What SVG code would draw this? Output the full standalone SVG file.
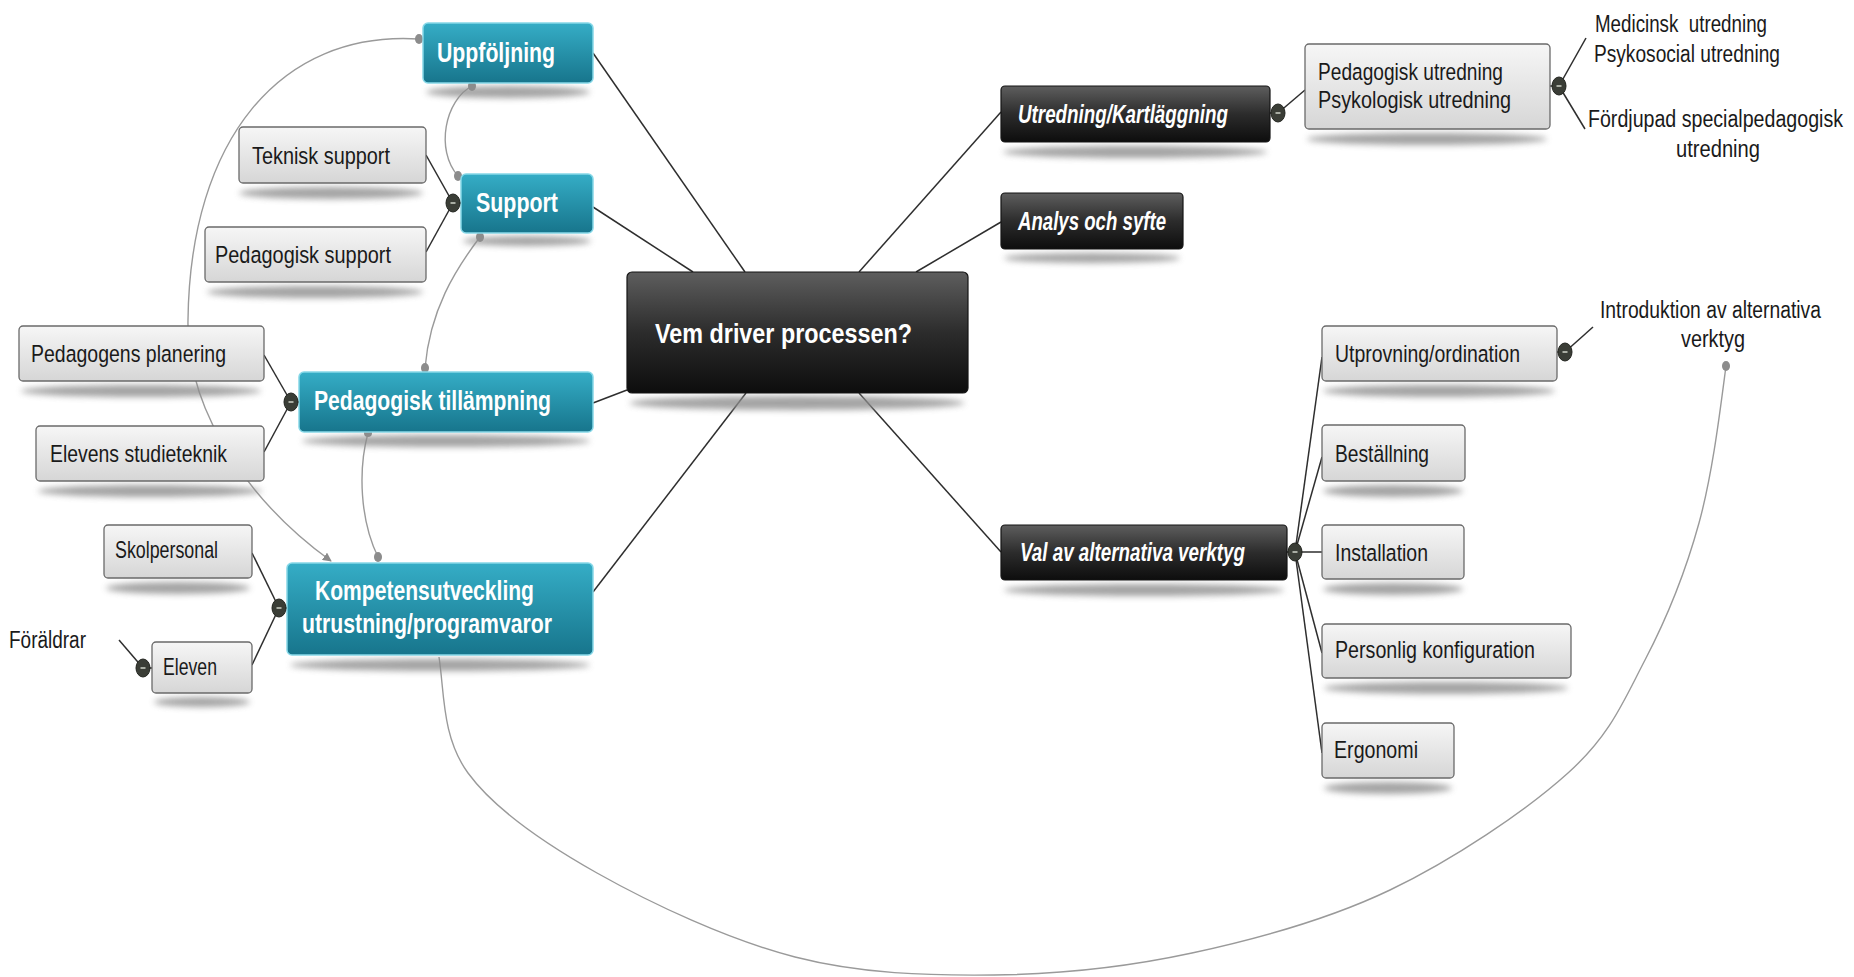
<svg xmlns="http://www.w3.org/2000/svg" width="1854" height="977" viewBox="0 0 1854 977">
<defs>
<linearGradient id="gTeal" x1="0" y1="0" x2="0" y2="1"><stop offset="0" stop-color="#35adc6"/><stop offset="1" stop-color="#17758c"/></linearGradient>
<linearGradient id="gDark" x1="0" y1="0" x2="0" y2="1"><stop offset="0" stop-color="#5e5e5e"/><stop offset="0.5" stop-color="#2c2c2c"/><stop offset="1" stop-color="#0d0d0d"/></linearGradient>
<linearGradient id="gGray" x1="0" y1="0" x2="0" y2="1"><stop offset="0" stop-color="#f6f6f6"/><stop offset="1" stop-color="#d6d6d6"/></linearGradient>
<filter id="blur" x="-20%" y="-200%" width="140%" height="500%"><feGaussianBlur stdDeviation="3"/></filter>
<marker id="arr" viewBox="0 0 10 10" refX="9" refY="5" markerWidth="9" markerHeight="9" orient="auto" markerUnits="userSpaceOnUse"><path d="M0,0 L10,5 L0,10 z" fill="#8a8a8a"/></marker>
<style>
.teal{fill:url(#gTeal);stroke:#86d8e8;stroke-width:1.5}
.dark{fill:url(#gDark);stroke:#151515;stroke-width:1.2}
.gray{fill:url(#gGray);stroke:#6a6a6a;stroke-width:1.3}
.sh{fill:#8c8c8c;opacity:.8;filter:url(#blur)}
.tw{font-family:"Liberation Sans",Arial,sans-serif;font-weight:bold;fill:#fff}
.ti{font-style:italic;font-size:25px}
.tb{font-family:"Liberation Sans",Arial,sans-serif;font-size:24.5px;fill:#1a1a1a}
.tp{font-family:"Liberation Sans",Arial,sans-serif;font-size:20px;fill:#1a1a1a}
.conn{stroke:#2e2e2e;stroke-width:1.5;fill:none}
.rel{stroke:#9a9a9a;stroke-width:1.4;fill:none}
.dot{fill:#8c8c8c}
.col{fill:#3a3d36;stroke:#22241f;stroke-width:1}
.colm{stroke:#cfd3c8;stroke-width:1.5}
</style>
</defs>
<rect width="1854" height="977" fill="#fff"/>

<g id="relations">
<path class="rel" d="M 439 657 C 444.5 692.5, 441.7 737, 468 773 C 494.3 809, 542.5 842.3, 597 873 C 651.5 903.7, 728.8 940, 795 957 C 861.2 974, 927.8 975.7, 994 975 C 1060.2 974.3, 1126 967.2, 1192 953 C 1258 938.8, 1327.3 920, 1390 890 C 1452.7 860, 1525.5 811.3, 1568 773 C 1610.5 734.7, 1623.2 701.7, 1645 660 C 1666.8 618.3, 1685.5 572, 1699 523 C 1712.5 474, 1720 411.5, 1726 366"/>
<path class="rel" d="M 419 39 C 280 30, 190 140, 188 320 C 186 420, 260 510, 331 561" marker-end="url(#arr)"/>
<path class="rel" d="M 472 86 C 445 100, 435 150, 458 176"/>
<path class="rel" d="M 480 237 C 455 270, 430 310, 425 368"/>
<path class="rel" d="M 368 433 C 358 470, 360 520, 378 557"/>
</g>

<g id="connectors">
<line class="conn" x1="593" y1="53" x2="745" y2="272"/>
<line class="conn" x1="593" y1="207" x2="693" y2="272"/>
<line class="conn" x1="593" y1="403" x2="627" y2="390"/>
<line class="conn" x1="593" y1="592" x2="746" y2="393"/>
<line class="conn" x1="859" y1="272" x2="1001" y2="112"/>
<line class="conn" x1="916" y1="272" x2="1001" y2="222"/>
<line class="conn" x1="859" y1="393" x2="1001" y2="552"/>
<line class="conn" x1="426" y1="155" x2="453" y2="203"/>
<line class="conn" x1="426" y1="252" x2="453" y2="203"/>
<line class="conn" x1="453" y1="203" x2="461" y2="203"/>
<line class="conn" x1="264" y1="355" x2="291" y2="402"/>
<line class="conn" x1="264" y1="452" x2="291" y2="402"/>
<line class="conn" x1="291" y1="402" x2="299" y2="402"/>
<line class="conn" x1="252" y1="553" x2="279" y2="608"/>
<line class="conn" x1="252" y1="665" x2="279" y2="608"/>
<line class="conn" x1="279" y1="608" x2="287" y2="608"/>
<line class="conn" x1="119" y1="640" x2="143" y2="668"/>
<line class="conn" x1="143" y1="668" x2="152" y2="668"/>
<line class="conn" x1="1270" y1="113" x2="1278" y2="113"/>
<line class="conn" x1="1278" y1="113" x2="1305" y2="90"/>
<line class="conn" x1="1550" y1="86" x2="1559" y2="86"/>
<line class="conn" x1="1559" y1="86" x2="1586" y2="38"/>
<line class="conn" x1="1559" y1="86" x2="1585" y2="129"/>
<line class="conn" x1="1287" y1="552" x2="1295" y2="552"/>
<line class="conn" x1="1295" y1="552" x2="1322" y2="357"/>
<line class="conn" x1="1295" y1="552" x2="1322" y2="457"/>
<line class="conn" x1="1295" y1="552" x2="1322" y2="552"/>
<line class="conn" x1="1295" y1="552" x2="1322" y2="653"/>
<line class="conn" x1="1295" y1="552" x2="1322" y2="753"/>
<line class="conn" x1="1557" y1="352" x2="1565" y2="352"/>
<line class="conn" x1="1565" y1="352" x2="1593" y2="327"/>
</g>

<g id="shadows">
<ellipse class="sh" cx="508" cy="92" rx="82" ry="6"/>
<ellipse class="sh" cx="527" cy="241" rx="64" ry="5"/>
<ellipse class="sh" cx="446" cy="441" rx="144" ry="6"/>
<ellipse class="sh" cx="440" cy="665" rx="150" ry="6"/>
<ellipse class="sh" cx="331" cy="193" rx="92" ry="6"/>
<ellipse class="sh" cx="315" cy="292" rx="108" ry="6"/>
<ellipse class="sh" cx="141" cy="391" rx="120" ry="6"/>
<ellipse class="sh" cx="150" cy="491" rx="112" ry="6"/>
<ellipse class="sh" cx="178" cy="588" rx="72" ry="6"/>
<ellipse class="sh" cx="202" cy="702" rx="48" ry="5"/>
<ellipse class="sh" cx="797" cy="403" rx="168" ry="7"/>
<ellipse class="sh" cx="1135" cy="152" rx="132" ry="6"/>
<ellipse class="sh" cx="1092" cy="258" rx="88" ry="5"/>
<ellipse class="sh" cx="1144" cy="590" rx="140" ry="6"/>
<ellipse class="sh" cx="1427" cy="139" rx="120" ry="6"/>
<ellipse class="sh" cx="1439" cy="391" rx="116" ry="6"/>
<ellipse class="sh" cx="1393" cy="491" rx="70" ry="6"/>
<ellipse class="sh" cx="1393" cy="589" rx="70" ry="6"/>
<ellipse class="sh" cx="1446" cy="688" rx="122" ry="6"/>
<ellipse class="sh" cx="1388" cy="788" rx="64" ry="6"/>
</g>

<g id="dots">
<ellipse class="dot" cx="419" cy="39" rx="4" ry="5"/>
<ellipse class="dot" cx="472" cy="86" rx="4" ry="5"/>
<ellipse class="dot" cx="458" cy="176" rx="4" ry="5"/>
<ellipse class="dot" cx="480" cy="237" rx="4" ry="5"/>
<ellipse class="dot" cx="425" cy="368" rx="4" ry="5"/>
<ellipse class="dot" cx="368" cy="433" rx="4" ry="4"/>
<ellipse class="dot" cx="378" cy="557" rx="4" ry="5"/>
<ellipse class="dot" cx="1726" cy="366" rx="4" ry="5"/>
</g>

<g id="n-uppfoljning"><rect class="teal" x="423" y="23" width="170" height="60" rx="5"/><text class="tw" x="437" y="62" font-size="27" textLength="118" lengthAdjust="spacingAndGlyphs">Uppföljning</text></g>
<g id="n-support"><rect class="teal" x="461" y="174" width="132" height="59" rx="5"/><text class="tw" x="476" y="212" font-size="27" textLength="82" lengthAdjust="spacingAndGlyphs">Support</text></g>
<g id="n-pedtill"><rect class="teal" x="299" y="372" width="294" height="60" rx="5"/><text class="tw" x="314" y="410" font-size="27" textLength="237" lengthAdjust="spacingAndGlyphs">Pedagogisk tillämpning</text></g>
<g id="n-kompetens"><rect class="teal" x="287" y="563" width="306" height="92" rx="5"/><text class="tw" x="315" y="600" font-size="27" textLength="219" lengthAdjust="spacingAndGlyphs">Kompetensutveckling</text><text class="tw" x="302" y="633" font-size="27" textLength="250" lengthAdjust="spacingAndGlyphs">utrustning/programvaror</text></g>

<g id="n-teknisk"><rect class="gray" x="239" y="127" width="187" height="56" rx="4"/><text class="tb" x="252" y="164" textLength="138" lengthAdjust="spacingAndGlyphs">Teknisk support</text></g>
<g id="n-pedsupport"><rect class="gray" x="205" y="227" width="221" height="55" rx="4"/><text class="tb" x="215" y="263" textLength="176" lengthAdjust="spacingAndGlyphs">Pedagogisk support</text></g>
<g id="n-planering"><rect class="gray" x="19" y="326" width="245" height="55" rx="4"/><text class="tb" x="31" y="362" textLength="195" lengthAdjust="spacingAndGlyphs">Pedagogens planering</text></g>
<g id="n-studieteknik"><rect class="gray" x="36" y="426" width="228" height="55" rx="4"/><text class="tb" x="50" y="462" textLength="177" lengthAdjust="spacingAndGlyphs">Elevens studieteknik</text></g>
<g id="n-skolpersonal"><rect class="gray" x="104" y="525" width="148" height="53" rx="4"/><text class="tb" x="115" y="558" textLength="103" lengthAdjust="spacingAndGlyphs">Skolpersonal</text></g>
<g id="n-eleven"><rect class="gray" x="152" y="642" width="100" height="51" rx="4"/><text class="tb" x="163" y="675" textLength="54" lengthAdjust="spacingAndGlyphs">Eleven</text></g>
<g id="n-foraldrar"><text class="tp" transform="translate(9,648) scale(1,1.15)" textLength="77" lengthAdjust="spacingAndGlyphs">Föräldrar</text></g>

<g id="n-center"><rect class="dark" x="627" y="272" width="341" height="121" rx="5"/><text class="tw" x="655" y="343" font-size="28.5" textLength="257" lengthAdjust="spacingAndGlyphs">Vem driver processen?</text></g>
<g id="n-utredning"><rect class="dark" x="1001" y="86" width="269" height="56" rx="4"/><text class="tw ti" x="1018" y="123" textLength="210" lengthAdjust="spacingAndGlyphs">Utredning/Kartläggning</text></g>
<g id="n-analys"><rect class="dark" x="1001" y="193" width="182" height="56" rx="4"/><text class="tw ti" x="1018" y="230" textLength="148" lengthAdjust="spacingAndGlyphs">Analys och syfte</text></g>
<g id="n-valav"><rect class="dark" x="1001" y="525" width="286" height="55" rx="4"/><text class="tw ti" x="1020" y="561" textLength="225" lengthAdjust="spacingAndGlyphs">Val av alternativa verktyg</text></g>

<g id="n-pedutredning"><rect class="gray" x="1305" y="44" width="245" height="85" rx="4"/><text class="tb" x="1318" y="80" textLength="185" lengthAdjust="spacingAndGlyphs">Pedagogisk utredning</text><text class="tb" x="1318" y="108" textLength="193" lengthAdjust="spacingAndGlyphs">Psykologisk utredning</text></g>
<g id="n-medicinsk"><text class="tp" transform="translate(1595,32) scale(1,1.15)" textLength="172" lengthAdjust="spacingAndGlyphs" xml:space="preserve">Medicinsk  utredning</text><text class="tp" transform="translate(1594,62) scale(1,1.15)" textLength="186" lengthAdjust="spacingAndGlyphs">Psykosocial utredning</text></g>
<g id="n-fordjupad"><text class="tp" transform="translate(1588,127) scale(1,1.15)" textLength="255" lengthAdjust="spacingAndGlyphs">Fördjupad specialpedagogisk</text><text class="tp" transform="translate(1676,157) scale(1,1.15)" textLength="84" lengthAdjust="spacingAndGlyphs">utredning</text></g>

<g id="n-utprovning"><rect class="gray" x="1322" y="326" width="235" height="55" rx="4"/><text class="tb" x="1335" y="362" textLength="185" lengthAdjust="spacingAndGlyphs">Utprovning/ordination</text></g>
<g id="n-introduktion"><text class="tp" transform="translate(1600,318) scale(1,1.15)" textLength="221" lengthAdjust="spacingAndGlyphs">Introduktion av alternativa</text><text class="tp" transform="translate(1681,347) scale(1,1.15)" textLength="64" lengthAdjust="spacingAndGlyphs">verktyg</text></g>
<g id="n-bestallning"><rect class="gray" x="1322" y="425" width="143" height="56" rx="4"/><text class="tb" x="1335" y="462" textLength="94" lengthAdjust="spacingAndGlyphs">Beställning</text></g>
<g id="n-installation"><rect class="gray" x="1322" y="525" width="142" height="54" rx="4"/><text class="tb" x="1335" y="561" textLength="93" lengthAdjust="spacingAndGlyphs">Installation</text></g>
<g id="n-personlig"><rect class="gray" x="1322" y="624" width="249" height="54" rx="4"/><text class="tb" x="1335" y="658" textLength="200" lengthAdjust="spacingAndGlyphs">Personlig konfiguration</text></g>
<g id="n-ergonomi"><rect class="gray" x="1322" y="723" width="132" height="55" rx="4"/><text class="tb" x="1334" y="758" textLength="84" lengthAdjust="spacingAndGlyphs">Ergonomi</text></g>

<g id="collapse">
<g transform="translate(453,203)"><ellipse class="col" rx="7" ry="9"/><line class="colm" x1="-2.5" y1="0" x2="2.5" y2="0"/></g>
<g transform="translate(291,402)"><ellipse class="col" rx="7" ry="9"/><line class="colm" x1="-2.5" y1="0" x2="2.5" y2="0"/></g>
<g transform="translate(279,608)"><ellipse class="col" rx="7" ry="9"/><line class="colm" x1="-2.5" y1="0" x2="2.5" y2="0"/></g>
<g transform="translate(143,668)"><ellipse class="col" rx="7" ry="9"/><line class="colm" x1="-2.5" y1="0" x2="2.5" y2="0"/></g>
<g transform="translate(1278,113)"><ellipse class="col" rx="7" ry="9"/><line class="colm" x1="-2.5" y1="0" x2="2.5" y2="0"/></g>
<g transform="translate(1559,86)"><ellipse class="col" rx="7" ry="9"/><line class="colm" x1="-2.5" y1="0" x2="2.5" y2="0"/></g>
<g transform="translate(1295,552)"><ellipse class="col" rx="7" ry="9"/><line class="colm" x1="-2.5" y1="0" x2="2.5" y2="0"/></g>
<g transform="translate(1565,352)"><ellipse class="col" rx="7" ry="9"/><line class="colm" x1="-2.5" y1="0" x2="2.5" y2="0"/></g>
</g>
</svg>
